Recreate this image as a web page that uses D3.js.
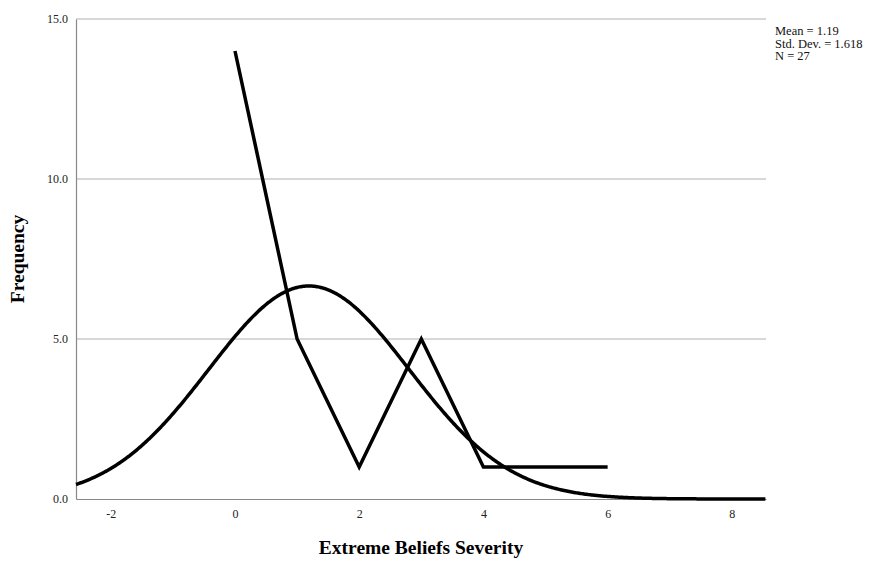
<!DOCTYPE html>
<html>
<head>
<meta charset="utf-8">
<script src="https://cdn.jsdelivr.net/npm/d3@7"></script>
<style>
  body { margin: 0; background: #fff; }
  text { font-family: "Liberation Serif", "Times New Roman", serif; }
</style>
</head>
<body>
<div id="chart"></div>
<script>
/* Histogram-style frequency polygon with normal curve */

const scores = [0, 1, 2, 3, 4, 5, 6];
const counts = [14, 5, 1, 5, 1, 1, 1];
const yTicks = [0, 5, 10, 15];
const xTicks = [-2, 0, 2, 4, 6, 8];
const statLabels = ["Mean = 1.19", "Std. Dev. = 1.618", "N = 27"];
const mean = 1.19, sd = 1.618, n = 27, binWidth = 1;

const width = 883, height = 564,
      margin = ({ top: 19, right: 117, bottom: 65, left: 76 });

let svg = d3.select("#chart")
    .append("svg")
    .attr("width", width)
    .attr("height", height);

let x = d3.scaleLinear()
    .domain([-2.56, 8.55])
    .range([margin.left, width - margin.right]);

let y = d3.scaleLinear()
    .domain([0, 15])
    .range([height - margin.bottom, margin.top]);

// gridlines
svg.append("g")
    .selectAll("line")
    .data(yTicks.filter(d => d > 0))
    .join("line")
    .attr("x1", margin.left)
    .attr("x2", width - margin.right)
    .attr("y1", d => y(d))
    .attr("y2", d => y(d))
    .attr("stroke", "#b0b0b0")
    .attr("stroke-width", 1);

// y axis
let yAxis = svg.append("g")
    .attr("transform", `translate(${margin.left},0)`)
    .call(d3.axisLeft(y).tickValues(yTicks).tickFormat(d3.format(".1f")).tickSize(0).tickPadding(8));
yAxis.select(".domain").attr("stroke", "#888").attr("stroke-width", 1.2);
yAxis.selectAll("text").attr("font-size", 12).attr("fill", "#222");

// x axis (plain hyphen for negatives, like the original)
let xAxis = svg.append("g")
    .attr("transform", `translate(0,${height - margin.bottom})`)
    .call(d3.axisBottom(x).tickValues(xTicks).tickFormat(d => String(d)).tickSize(0).tickPadding(10));
xAxis.select(".domain").attr("stroke", "#888").attr("stroke-width", 1.2);
xAxis.selectAll("text").attr("font-size", 12).attr("fill", "#222");

// normal curve (from the displayed mean, sd and N)
let xs = d3.range(x.domain()[0], x.domain()[1] + 0.001, 0.02);
let curve = xs.map(v => [v, n * binWidth / (sd * Math.sqrt(2 * Math.PI)) * Math.exp(-0.5 * ((v - mean) / sd) ** 2)]);

svg.append("path")
    .datum(curve)
    .attr("fill", "none")
    .attr("stroke", "#000")
    .attr("stroke-width", 3.5)
    .attr("d", d3.line().x(d => x(d[0])).y(d => y(d[1])));

// frequency polygon
svg.append("path")
    .datum(scores.map((s, i) => [s, counts[i]]))
    .attr("fill", "none")
    .attr("stroke", "#000")
    .attr("stroke-width", 3.5)
    .attr("stroke-linejoin", "miter")
    .attr("d", d3.line().x(d => x(d[0])).y(d => y(d[1])));

// stats box
svg.append("g")
    .selectAll("text")
    .data(statLabels)
    .join("text")
    .attr("x", width - margin.right + 9)
    .attr("y", (d, i) => 35 + i * 12.5)
    .attr("font-size", 12.5)
    .attr("fill", "#111")
    .text(d => d);

// axis titles
svg.append("text")
    .attr("x", (margin.left + width - margin.right) / 2)
    .attr("y", height - 10)
    .attr("text-anchor", "middle")
    .attr("font-size", 19.5)
    .attr("font-weight", "bold")
    .text("Extreme Beliefs Severity");

svg.append("text")
    .attr("transform", `translate(24,${(margin.top + height - margin.bottom) / 2}) rotate(-90)`)
    .attr("text-anchor", "middle")
    .attr("font-size", 19.5)
    .attr("font-weight", "bold")
    .text("Frequency");
</script>
</body>
</html>
